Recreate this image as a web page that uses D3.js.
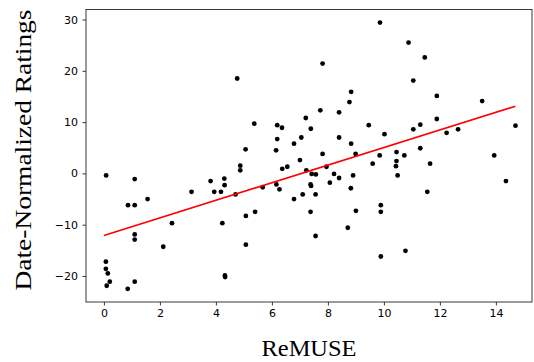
<!DOCTYPE html>
<html><head><meta charset="utf-8">
<script src="https://cdn.jsdelivr.net/npm/d3@7"></script>
<style>html,body{margin:0;padding:0;background:#fff;}</style>
</head><body>
<svg id="chart" width="534" height="362"></svg>
<script>
const remuse = [9.86,7.81,4.76,8.83,8.77,7.73,8.40,7.21,5.37,6.19,6.36,9.46,7.39,10.02,6.19,7.05,8.40,5.06,6.15,6.79,8.83,7.81,7.0,8.99,9.85,
10.88,11.46,11.05,11.89,13.51,11.89,11.05,11.3,12.24,12.65,14.70,11.3,10.45,10.73,13.94,10.45,10.43,10.49,11.65,14.36,11.55,9.89,9.89,10.77,9.89,
0.08,1.1,0.86,1.1,1.56,1.1,1.1,2.43,2.12,0.07,0.07,0.14,0.21,0.1,0.85,1.1,3.13,3.81,3.94,4.18,4.3,4.31,4.23,4.32,4.33,4.7,4.87,4.87,
5.67,6.16,6.27,6.37,6.55,7.23,7.42,7.57,7.38,7.4,7.1,6.79,7.56,7.95,8.07,8.22,8.4,8.9,8.82,9.6,9.0,5.4,5.07,5.07,7.38,8.71,7.56];
const ratings = [29.4,21.4,18.5,15.9,13.9,12.3,11.9,10.8,9.7,9.4,8.9,9.4,8.7,7.65,6.7,7.0,7.0,4.7,4.5,5.8,5.8,3.8,2.6,3.8,3.5,
25.5,22.6,18.1,15.1,14.1,10.6,8.6,9.5,7.9,8.6,9.3,4.9,4.15,3.5,3.5,2.4,1.4,-0.4,1.9,-1.5,-3.6,-6.2,-7.5,-15.1,-16.2,
-0.4,-1.1,-6.2,-6.2,-5.0,-11.9,-12.9,-9.7,-14.3,-17.2,-18.6,-19.5,-21.1,-21.9,-22.5,-21.1,-3.6,-1.5,-3.6,-3.6,-1.0,-2.3,-9.7,-19.9,-20.2,-4.1,0.6,1.5,
-2.7,-2.15,-3.1,0.9,1.3,0.6,-0.1,-0.2,-2.15,-2.45,-4.1,-5.0,-4.1,1.3,-1.8,-0.1,-0.9,-0.4,-2.9,1.9,-7.3,-7.5,-8.3,-13.9,-7.5,-10.6,-12.2];
const fitX = [0, 14.7];
const fitY = [-12.1, 13.1];
const xTicks = [0,2,4,6,8,10,12,14];
const yTicks = [-20,-10,0,10,20,30];

const svg = d3.select("#chart");
const L=86, R=532, T=9.5, B=302;
const x = d3.scaleLinear().domain([-0.64,15.29]).range([L,R]);
const y = d3.scaleLinear().domain([-25.07,31.95]).range([B,T]);

const pts = remuse.map((v,i)=>({x:v,y:ratings[i]}));
svg.append("g").selectAll("circle").data(pts).join("circle")
  .attr("cx",d=>x(d.x)).attr("cy",d=>y(d.y)).attr("r",2.4).attr("fill","#000");

svg.append("path").datum(fitX.map((v,i)=>[v,fitY[i]]))
  .attr("d",d3.line().x(d=>x(d[0])).y(d=>y(d[1])))
  .attr("stroke","#ff0000").attr("stroke-width",1.6).attr("fill","none");

// spines
svg.append("rect").attr("x",L).attr("y",T).attr("width",R-L).attr("height",B-T)
  .attr("fill","none").attr("stroke","#222").attr("stroke-width",0.9);

const xa = svg.append("g").attr("transform",`translate(0,${B})`)
  .call(d3.axisBottom(x).tickValues(xTicks).tickSize(3.5).tickPadding(3.5).tickFormat(d3.format("d")));
const ya = svg.append("g").attr("transform",`translate(${L},0)`)
  .call(d3.axisLeft(y).tickValues(yTicks).tickSize(3.5).tickPadding(4.5).tickFormat(d=>d<0?"\u2212"+Math.abs(d):d));
[xa,ya].forEach(a=>{
  a.select(".domain").remove();
  a.selectAll("line").attr("stroke","#222").attr("stroke-width",0.9);
  a.selectAll("text").attr("font-family","DejaVu Sans").attr("font-size",11).attr("fill","#000");
});

svg.append("text").attr("x",309).attr("y",356).attr("text-anchor","middle")
  .attr("font-family","Liberation Serif").attr("font-size",24)
  .attr("textLength",95).attr("lengthAdjust","spacingAndGlyphs").text("ReMUSE");
svg.append("text").attr("transform","translate(31,150) rotate(-90)").attr("text-anchor","middle")
  .attr("font-family","Liberation Serif").attr("font-size",24)
  .attr("textLength",281).attr("lengthAdjust","spacingAndGlyphs").text("Date-Normalized Ratings");
</script>
</body></html>
